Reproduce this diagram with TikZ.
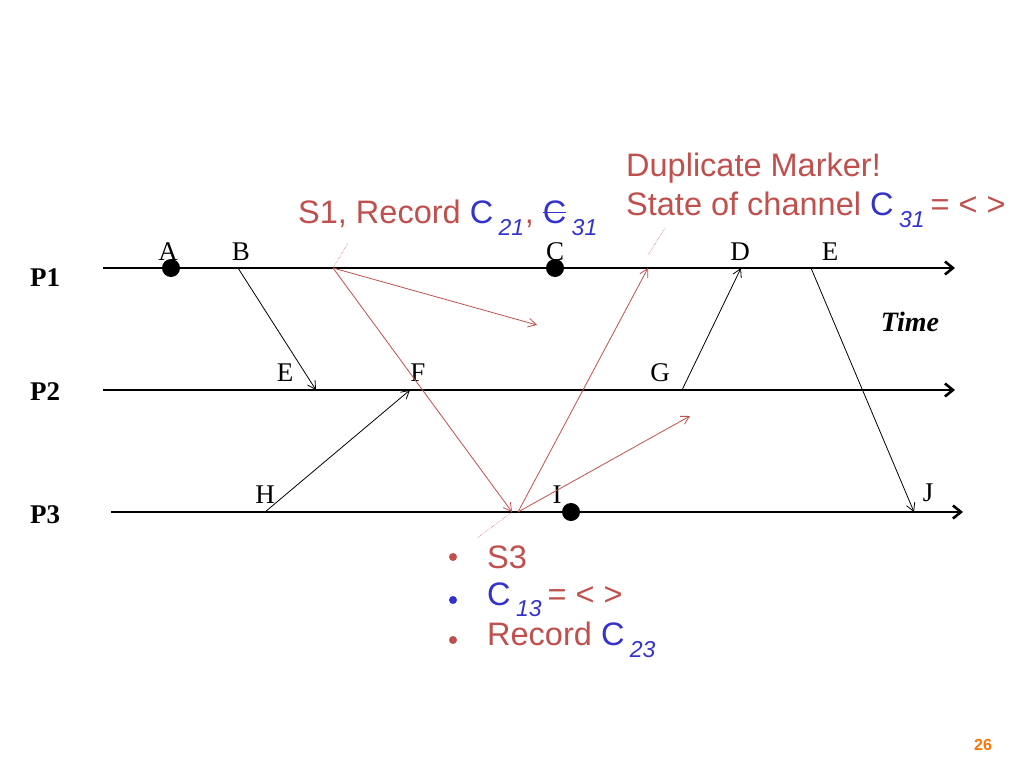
\documentclass[tikz,border=0pt]{standalone}
\usepackage{fontspec}
\setmainfont{Liberation Serif}
\setsansfont{Liberation Sans}
\usetikzlibrary{arrows.meta}
\definecolor{sred}{RGB}{192,80,77}
\definecolor{sblue}{RGB}{51,51,204}
\newcommand{\chan}[1]{\textcolor{sblue}{C\,\raisebox{-0.12em}{\textsubscript{\itshape\fontsize{23}{24}\selectfont #1}}}}
\begin{document}
\begin{tikzpicture}[x=1pt, y=-1pt,
        proc/.style={line width=2.6pt, -{Straight Barb[length=8pt, width=13pt]}},
        msg/.style={-{Straight Barb[length=8pt, width=9pt]}, line width=0.8pt},
        marker/.style={msg, sred},
        leader/.style={sred, densely dotted, line width=0.5pt},
        ev/.style={font=\fontsize{27}{30}\selectfont, inner sep=0pt},
        pname/.style={font=\fontsize{27}{30}\selectfont\bfseries, inner sep=0pt},
        note/.style={font=\fontsize{32.5}{36}\sffamily\selectfont, text=sred, inner sep=0pt, anchor=west},
        dot/.style={circle, fill=black, inner sep=0pt, minimum width=18pt, minimum height=15pt}
    ]
        \useasboundingbox (0,0) rectangle (1024,768);
        % Process lines
        \coordinate (p1s) at (103,268); \coordinate (p1e) at (955,268);
        \coordinate (p2s) at (103,390); \coordinate (p2e) at (955,390);
        \coordinate (p3s) at (111,512); \coordinate (p3e) at (963,512);
        \draw[proc] (p1s) -- (p1e);
        \draw[proc] (p2s) -- (p2e);
        \draw[proc] (p3s) -- (p3e);
        \node[pname] (P1) at (45,278) {P1};
        \node[pname] (P2) at (45,392) {P2};
        \node[pname] (P3) at (45,515) {P3};
        \node[font=\fontsize{28}{30}\selectfont\bfseries\itshape, inner sep=0pt] (time) at (910,322) {Time};
        % Events
        \node[dot] (dA) at (171,268) {};
        \node[dot] (dC) at (555,268) {};
        \node[dot] (dI) at (571,512) {};
        \node[ev] (lA) at (168,252) {A};
        \node[ev] (lB) at (241,252) {B};
        \node[ev] (lC) at (555,252) {C};
        \node[ev] (lD) at (740,252) {D};
        \node[ev] (lE1) at (830,252) {E};
        \node[ev] (lE2) at (285,373) {E};
        \node[ev] (lF) at (418,373) {F};
        \node[ev] (lG) at (660,373) {G};
        \node[ev] (lH) at (265,495) {H};
        \node[ev] (lI) at (557,495) {I};
        \node[ev] (lJ) at (928,493) {J};
        % Message end points
        \coordinate (B) at (238,268); \coordinate (E) at (316,390);
        \coordinate (H) at (265,512); \coordinate (F) at (410,390);
        \coordinate (G) at (682,390); \coordinate (D) at (741,268);
        \coordinate (E1) at (811,268); \coordinate (J) at (914,512);
        \coordinate (S1) at (333,268); \coordinate (S3) at (518,512);
        \coordinate (m1) at (537,325); \coordinate (m2) at (512,512);
        \coordinate (m3) at (648,268); \coordinate (m4) at (690,416);
        \draw[msg] (B) -- (E);
        \draw[msg] (H) -- (F);
        \draw[msg] (G) -- (D);
        \draw[msg] (E1) -- (J);
        % Markers
        \draw[marker] (S1) -- (m1);
        \draw[marker] (S1) -- (m2);
        \draw[marker] (S3) -- (m3);
        \draw[marker] (S3) -- (m4);
        % Notes
        \node[note] (n1) at (298,218) {S1, Record \chan{21}, \textcolor{sblue}{\rlap{\raisebox{0.33em}{\rule{0.72em}{1.2pt}}}}\chan{31}};
        \node[note] (n2) at (626,168) {Duplicate Marker!};
        \node[note] (n3) at (626,210) {State of channel \chan{31}\,= < >};
        \coordinate (t1) at (348,243); \coordinate (t2) at (665,228); \coordinate (t3) at (477,538);
        \draw[leader] (S1) -- (t1);
        \draw[leader] (m3) ++(0,-13) coordinate (m3a) -- (t2);
        \draw[leader] (m2) -- (t3);
        % Bullets
        \node[note] (b1) at (487,557) {S3};
        \node[note] (b2) at (487,600) {\chan{13}\,= < >};
        \node[note] (b3) at (487,640) {Record \chan{23}};
        \fill[sred] (453,557) circle (4pt);
        \fill[sblue] (453,600) circle (4pt);
        \fill[sred] (453,640) circle (4pt);
        \node[font=\fontsize{16}{18}\sffamily\bfseries\selectfont, text=orange!90!red, inner sep=0pt] (pg) at (983,745) {26};
    \end{tikzpicture}
\end{document}
